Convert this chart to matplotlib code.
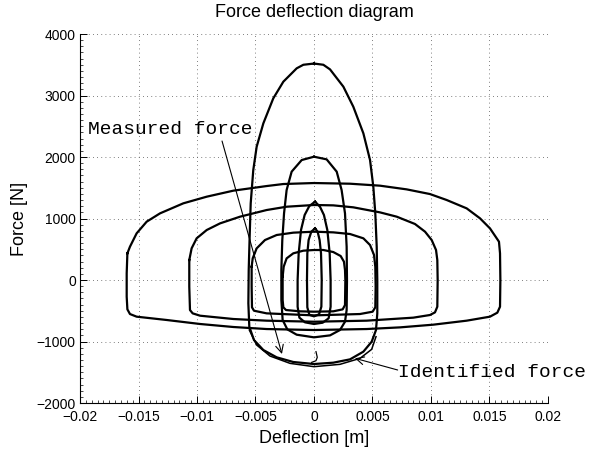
import numpy as np
import matplotlib
matplotlib.use("Agg")
import matplotlib.pyplot as plt
from matplotlib.ticker import AutoMinorLocator

# ---- data (deflection in mm, force in N) ----
w1_d = [-15.95, -16.01, -16.01, -15.95, -15.73, -15.16, -12.59, -9.74, -6.89, -4.05, 0.0,
        4.50, 7.35, 10.20, 13.05, 15.04, 15.67, 15.90, 15.93, 15.90, 15.81, 15.56, 15.04,
        14.19, 13.05, 11.34, 9.91, 7.92, 5.64, 3.08, 0.0, -2.62, -4.05, -6.89, -9.17,
        -11.17, -13.16, -14.30, -15.16, -15.73, -15.95]
w1_f = [434, 108, -271, -477, -553, -596, -650, -715, -764, -797, -813,
        -797, -770, -726, -661, -596, -531, -434, 0, 434, 623, 694, 840,
        1003, 1165, 1301, 1398, 1474, 1534, 1566, 1577, 1561, 1528, 1453, 1355,
        1247, 1084, 949, 759, 542, 434]

w2_d = [-10.66, -10.66, -10.60, -10.37, -9.74, -6.89, -4.05, 0.0, 4.50, 8.49, 9.91,
        10.34, 10.54, 10.57, 10.54, 10.43, 10.06, 9.49, 8.63, 7.07, 5.64, 3.36, 1.65,
        0.0, -2.34, -4.05, -6.32, -8.03, -9.17, -10.03, -10.46, -10.66]
w2_f = [325, -108, -488, -542, -580, -634, -661, -678, -661, -612, -569,
        -526, -434, 0, 325, 488, 650, 786, 911, 1030, 1100, 1182, 1214,
        1220, 1192, 1138, 1030, 921, 813, 678, 515, 325]

w3_d = [-5.33, -5.33, -5.30, -5.13, -4.05, 0.0, 3.93, 5.01, 5.24, 5.27, 5.24, 5.13,
        4.79, 4.22, 3.08, 1.65, 0.0, -1.77, -3.19, -4.19, -4.90, -5.24, -5.33]
w3_f = [217, -108, -444, -499, -542, -575, -553, -515, -444, -108, 217, 407,
        569, 678, 748, 775, 786, 770, 732, 650, 515, 352, 217]

w4_d = [-2.68, -2.68, -2.62, -2.39, -1.20, 0.0, 1.65, 2.45, 2.65, 2.68, 2.65, 2.56,
        2.28, 1.65, 0.80, 0.0, -0.91, -1.77, -2.34, -2.59, -2.68]
w4_f = [54, -325, -444, -488, -509, -515, -509, -477, -407, 0, 163, 298,
        390, 455, 488, 488, 477, 434, 352, 217, 54]

t1_d = [0.0, 0.80, 1.37, 2.51, 3.36, 4.22, 4.79, 5.07, 5.24, 5.36, 5.41, 5.41, 5.30,
        4.93, 4.22, 3.08, 1.65, 0.0, -1.77, -3.19, -4.33, -5.13, -5.53, -5.61, -5.58,
        -5.50, -5.41, -5.19, -4.90, -4.33, -3.48, -2.62, -1.48, -0.91, 0.0]
t1_f = [3520, 3500, 3425, 3144, 2818, 2385, 1951, 1518, 1084, 542, 0, -542, -813,
        -1003, -1165, -1290, -1344, -1366, -1333, -1257, -1138, -976, -759, -379, 163,
        705, 1247, 1788, 2168, 2547, 2954, 3225, 3442, 3500, 3520]

t1_ident_d = [-5.53, -4.90, -3.76, -2.05, 0.0, 2.22, 3.93, 4.93, 5.30]
t1_ident_f = [-813, -1057, -1236, -1355, -1409, -1371, -1274, -1127, -921]

t2_d = [0.0, 1.08, 1.94, 2.36, 2.65, 2.79, 2.82, 2.79, 2.65, 2.22, 1.37, 0.0, -1.48,
        -2.28, -2.68, -2.79, -2.79, -2.71, -2.56, -2.34, -1.91, -1.05, 0.0]
t2_f = [2005, 1962, 1762, 1463, 1084, 542, 0, -488, -678, -813, -900, -932, -889,
        -802, -650, -325, 163, 650, 1084, 1463, 1762, 1951, 2005]

t3_d = [0.09, 0.51, 0.85, 1.14, 1.34, 1.42, 1.42, 1.25, 0.74, 0.0, -0.77, -1.25,
        -1.40, -1.40, -1.31, -1.11, -0.80, -0.40, 0.09]
t3_f = [1274, 1192, 1057, 813, 434, 0, -434, -623, -694, -715, -688, -612,
        -434, 0, 434, 813, 1057, 1203, 1274]

t4_d = [0.09, 0.31, 0.48, 0.60, 0.66, 0.63, 0.43, 0.0, -0.40, -0.57, -0.60, -0.57,
        -0.46, -0.23, 0.09]
t4_f = [840, 786, 650, 434, 0, -434, -558, -591, -564, -444, 0, 434, 650, 786, 840]

hook_d = [0.17, 0.28, 0.17, -0.20]
hook_f = [-1165, -1257, -1312, -1339]

loops = [(w1_d, w1_f), (w2_d, w2_f), (w3_d, w3_f), (w4_d, w4_f),
         (t1_d, t1_f), (t2_d, t2_f), (t3_d, t3_f), (t4_d, t4_f)]

x_ticks = [-0.02, -0.015, -0.01, -0.005, 0, 0.005, 0.01, 0.015, 0.02]
x_tick_labels = ["\u22120.02", "\u22120.015", "\u22120.01", "\u22120.005", "0",
                 "0.005", "0.01", "0.015", "0.02"]
y_ticks = [-2000, -1000, 0, 1000, 2000, 3000, 4000]
y_tick_labels = ["\u22122000", "\u22121000", "0", "1000", "2000", "3000", "4000"]

# ---- figure ----
plt.rcParams['font.family'] = ['Liberation Sans', 'DejaVu Sans']
fig = plt.figure(figsize=(5.9, 4.5), dpi=100)
ax = fig.add_axes([0.1356, 0.1044, 0.7932, 0.82])

for d, f in loops:
    ax.plot(np.asarray(d) / 1000.0, f, color='black', lw=1.6, solid_joinstyle='round')
ax.plot(np.asarray(t1_ident_d) / 1000.0, t1_ident_f, color='black', lw=1.1)
ax.plot(np.asarray(hook_d) / 1000.0, hook_f, color='black', lw=0.9)

ax.set_xlim(-0.02, 0.02)
ax.set_ylim(-2000, 4000)
ax.set_xticks(x_ticks)
ax.set_xticklabels(x_tick_labels)
ax.set_yticks(y_ticks)
ax.set_yticklabels(y_tick_labels)
ax.xaxis.set_minor_locator(AutoMinorLocator(10))
ax.yaxis.set_minor_locator(AutoMinorLocator(10))
ax.tick_params(which='major', direction='in', length=5, width=0.7, labelsize=10)
ax.tick_params(axis='x', which='major', pad=5)
ax.tick_params(axis='y', which='major', pad=3)
ax.tick_params(which='minor', direction='in', length=2.5, width=0.5)
for s in ['top', 'right']:
    ax.spines[s].set_visible(False)
for s in ['left', 'bottom']:
    ax.spines[s].set_linewidth(0.8)
ax.grid(True, which='major', color='#555555', linestyle=(0, (1, 4)), linewidth=0.6)

ax.set_title("Force deflection diagram", fontsize=13, pad=12)
ax.set_xlabel("Deflection [m]", fontsize=13, labelpad=4)
ax.set_ylabel("Force [N]", fontsize=13, labelpad=6)

mono = ['Liberation Mono', 'DejaVu Sans Mono']
ax.annotate('', xy=(-0.00274, -1203), xytext=(-0.00786, 2260),
            arrowprops=dict(arrowstyle='->', lw=0.8, color='black',
                            shrinkA=0, shrinkB=0, mutation_scale=14))
ax.text(-0.0193, 2455, "Measured force", family=mono, fontsize=14,
        ha='left', va='center', clip_on=False)
ax.annotate('', xy=(0.0035, -1273), xytext=(0.00715, -1463),
            arrowprops=dict(arrowstyle='->', lw=0.8, color='black',
                            shrinkA=0, shrinkB=0, mutation_scale=14))
ax.text(0.0072, -1507, "Identified force", family=mono, fontsize=14,
        ha='left', va='center', clip_on=False)

fig.savefig("out.png", dpi=100)
